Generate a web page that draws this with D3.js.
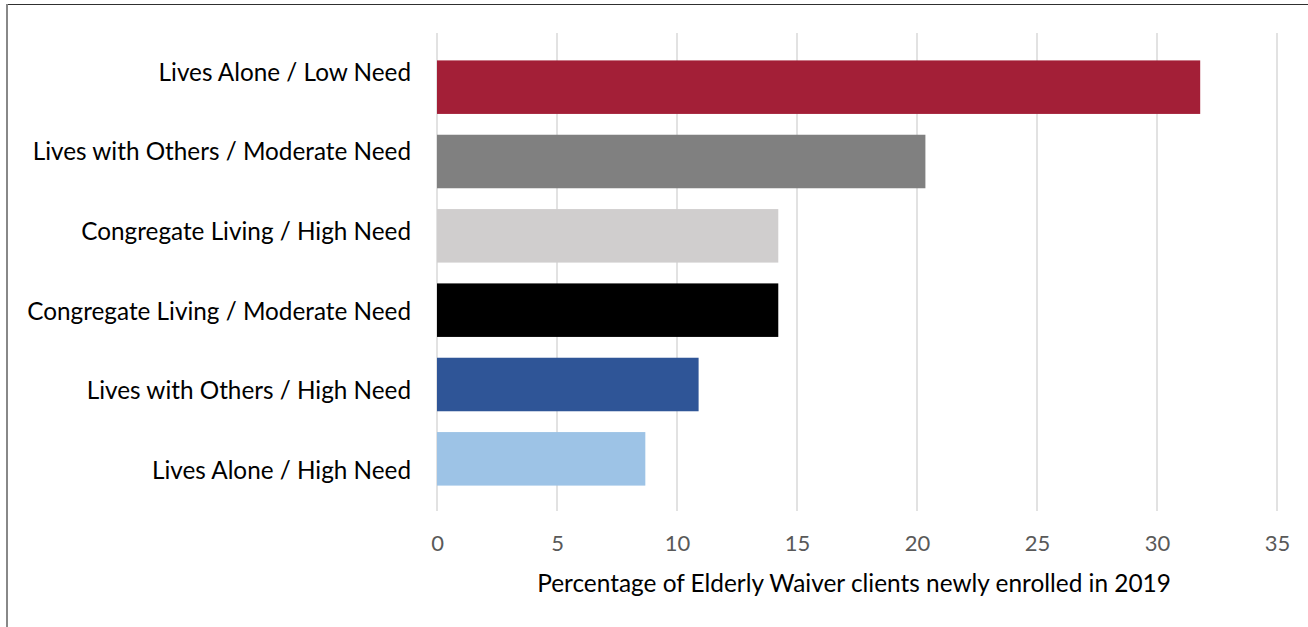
<!DOCTYPE html>
<html>
<head>
<meta charset="utf-8">
<script src="https://cdn.jsdelivr.net/npm/d3@7"></script>
<style>
  body { margin: 0; background: #fff; }
  svg text { font-family: Lato, "Open Sans", sans-serif; }
</style>
</head>
<body>
<div id="chart"></div>
<script>
// categories top to bottom
const categories = [
    "Lives Alone / Low Need",
    "Lives with Others / Moderate Need",
    "Congregate Living / High Need",
    "Congregate Living / Moderate Need",
    "Lives with Others / High Need",
    "Lives Alone / High Need"
];
const values = [31.8, 20.35, 14.22, 14.22, 10.9, 8.68];
const barColors = ["#a31f37", "#808080", "#d0cece", "#000000", "#2f5597", "#9dc3e6"];
const xTickValues = [0, 5, 10, 15, 20, 25, 30, 35];
const xTitle = "Percentage of Elderly Waiver clients newly enrolled in 2019";

const width = 1308,
    height = 627,
    leftMargin = 437,
    rightEdge = 1277,
    gridTop = 33,
    gridBottom = 511;

const svg = d3.select('#chart')
    .append('svg')
    .attr('width', width)
    .attr('height', height);

// frame
svg.append('line').attr('x1', 6).attr('x2', width).attr('y1', 4.5).attr('y2', 4.5)
    .attr('stroke', '#303030').attr('stroke-width', 1);
svg.append('line').attr('x1', 7).attr('x2', 7).attr('y1', 4).attr('y2', height)
    .attr('stroke', '#888888').attr('stroke-width', 2);

const x = d3.scaleLinear()
    .domain([0, 35])
    .range([leftMargin, rightEdge]);

// bars sit a bit tighter than the label slots
const y = d3.scaleBand()
    .domain(categories)
    .range([50, 496])
    .paddingInner(0.28)
    .paddingOuter(0.14);

const yLabel = d3.scaleBand()
    .domain(categories)
    .range([gridTop, gridBottom]);

// gridlines
svg.append('g')
    .selectAll('line')
    .data(xTickValues)
    .enter()
    .append('line')
    .attr('x1', d => x(d))
    .attr('x2', d => x(d))
    .attr('y1', gridTop)
    .attr('y2', gridBottom)
    .attr('stroke', '#d9d9d9')
    .attr('stroke-width', 1.5);

// bars
svg.append('g')
    .selectAll('rect')
    .data(values)
    .enter()
    .append('rect')
    .attr('x', x(0))
    .attr('y', (d, i) => y(categories[i]))
    .attr('width', d => x(d) - x(0))
    .attr('height', y.bandwidth())
    .attr('fill', (d, i) => barColors[i]);

// x axis labels
const xAxis = d3.axisBottom(x).tickValues(xTickValues).tickSize(0).tickPadding(0);
const gx = svg.append('g')
    .attr('transform', `translate(0, ${gridBottom + 40})`)
    .call(xAxis);
gx.select('.domain').remove();
gx.selectAll('text')
    .attr('dy', 0)
    .attr('fill', '#595959')
    .style('font-size', '22px')
    .style('font-family', 'Lato, sans-serif');

// y axis labels
const yAxis = d3.axisLeft(yLabel).tickSize(0).tickPadding(26);
const gy = svg.append('g')
    .attr('transform', `translate(${leftMargin}, 0)`)
    .call(yAxis);
gy.select('.domain').remove();
gy.selectAll('text')
    .attr('fill', '#000')
    .style('font-size', '24.3px')
    .style('font-family', 'Lato, sans-serif');

// x title
svg.append('text')
    .attr('x', (x(0) + x(35)) / 2 - 3)
    .attr('y', 592)
    .attr('text-anchor', 'middle')
    .attr('fill', '#000')
    .style('font-size', '24.4px')
    .text(xTitle);
</script>
</body>
</html>
